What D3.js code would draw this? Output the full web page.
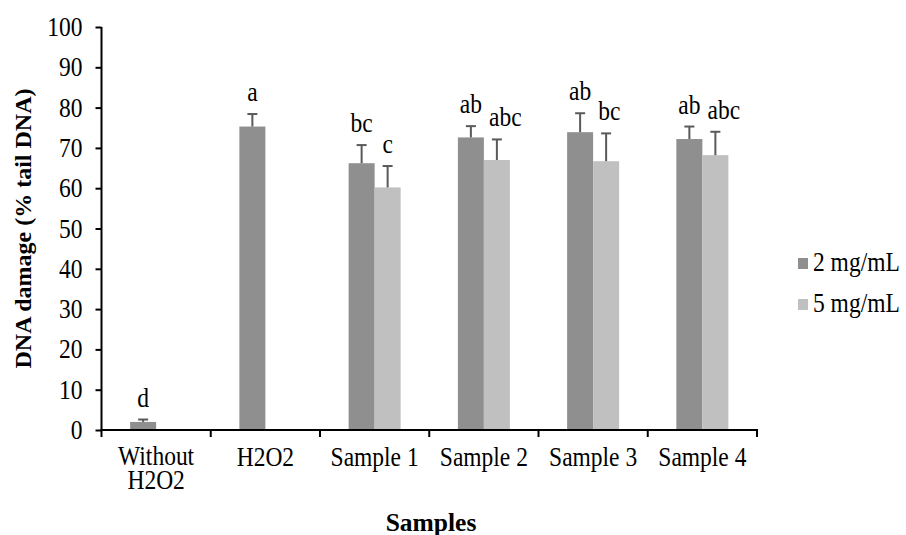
<!DOCTYPE html>
<html>
<head>
<meta charset="utf-8">
<script src="https://cdn.jsdelivr.net/npm/d3@7"></script>
<style>
  html, body { margin: 0; padding: 0; background: #fff; }
  svg { display: block; }
  text { font-family: "Liberation Serif", "Times New Roman", serif; fill: #000; }
</style>
</head>
<body>
<svg id="chart" width="906" height="535"></svg>
<script>
// Comet assay: DNA damage by treatment
const categories = ["Without H2O2", "H2O2", "Sample 1", "Sample 2", "Sample 3", "Sample 4"];
const seriesNames = ["2 mg/mL", "5 mg/mL"];
const values2 = [2.0, 75.3, 66.2, 72.6, 73.9, 72.2];
const errors2 = [0.6, 3.1, 4.5, 2.8, 4.7, 3.1];
const letters2 = ["d", "a", "bc", "ab", "ab", "ab"];
const values5 = [null, null, 60.2, 67.0, 66.7, 68.2];
const errors5 = [null, null, 5.3, 5.1, 6.9, 5.8];
const letters5 = [null, null, "c", "abc", "bc", "abc"];
const yTicks = [0, 10, 20, 30, 40, 50, 60, 70, 80, 90, 100];
const colors = ["#8f8f8f", "#c0c0c0"];

const FONT = 23.5;      // regular text size
const STRETCH = 1.13;   // the serif text is set slightly tall

const svg = d3.select("#chart");
const plot = { left: 101.5, right: 757, top: 27, bottom: 430 };

const x = d3.scaleBand().domain(categories).range([plot.left, plot.right]).padding(0);
const bw = x.bandwidth();
const barW = bw * 0.238;
const xs = d3.scaleBand().domain(seriesNames).range([bw / 2 - barW, bw / 2 + barW]).padding(0);
const y = d3.scaleLinear().domain([0, 100]).range([plot.bottom, plot.top]);

// place a text at (px, py) with the tall setting
function tallText(g, px, py, str) {
  return g.append("text")
    .attr("transform", `translate(${px},${py}) scale(1,${STRETCH})`)
    .text(str);
}

const rows = [];
categories.forEach((c, i) => {
  rows.push({ cat: c, s: seriesNames[0], v: values2[i], e: errors2[i], l: letters2[i], k: 0 });
  if (values5[i] != null) rows.push({ cat: c, s: seriesNames[1], v: values5[i], e: errors5[i], l: letters5[i], k: 1 });
});

// bars
svg.append("g").selectAll("rect").data(rows).join("rect")
  .attr("x", d => x(d.cat) + xs(d.s))
  .attr("width", xs.bandwidth())
  .attr("y", d => y(d.v))
  .attr("height", d => y(0) - y(d.v))
  .attr("fill", d => colors[d.k]);

// upper error bars
const eg = svg.append("g").attr("stroke", "#595959").attr("stroke-width", 2).attr("fill", "none");
rows.forEach(d => {
  const cx = x(d.cat) + xs(d.s) + xs.bandwidth() / 2;
  eg.append("line").attr("x1", cx).attr("x2", cx).attr("y1", y(d.v)).attr("y2", y(d.v + d.e));
  eg.append("line").attr("x1", cx - 5).attr("x2", cx + 5).attr("y1", y(d.v + d.e)).attr("y2", y(d.v + d.e));
});

// significance letters, nudged right when they would crowd the neighbour
const lg = svg.append("g").attr("font-size", FONT + "px").attr("text-anchor", "middle");
categories.forEach(c => {
  let prevRight = -Infinity;
  rows.filter(d => d.cat === c).forEach(d => {
    const cx = x(d.cat) + xs(d.s) + xs.bandwidth() / 2;
    const ty = y(d.v + d.e) - 13;
    const t = tallText(lg, cx, ty, d.l);
    const w = t.node().getComputedTextLength();
    let left = cx - w / 2;
    if (left < prevRight + 7) {
      left = prevRight + 7;
      t.attr("transform", `translate(${left + w / 2},${ty}) scale(1,${STRETCH})`);
    }
    prevRight = left + w;
  });
});

// y axis
const yAxis = svg.append("g").attr("transform", `translate(${plot.left},0)`)
  .call(d3.axisLeft(y).tickValues(yTicks).tickSize(6).tickPadding(13).tickFormat(d3.format("d")));
yAxis.select(".domain").attr("stroke", "#000").attr("stroke-width", 2).attr("d", `M0,${plot.top}V${plot.bottom}`);
yAxis.selectAll(".tick line").attr("stroke", "#000").attr("stroke-width", 2);
yAxis.selectAll(".tick text")
  .attr("font-size", FONT + "px")
  .attr("font-family", "Liberation Serif, Times New Roman, serif")
  .attr("fill", "#000")
  .attr("transform", `scale(1,${STRETCH})`);

// x axis: line with boundary ticks between categories
const xAxisG = svg.append("g");
xAxisG.append("line").attr("x1", plot.left - 1).attr("x2", plot.right + 1)
  .attr("y1", plot.bottom).attr("y2", plot.bottom).attr("stroke", "#000").attr("stroke-width", 2);
const bounds = categories.map(c => x(c)).concat([x(categories[categories.length - 1]) + bw]);
xAxisG.selectAll("line.tk").data(bounds).join("line").attr("class", "tk")
  .attr("x1", d => d).attr("x2", d => d).attr("y1", plot.bottom).attr("y2", plot.bottom + 7)
  .attr("stroke", "#000").attr("stroke-width", 2);

// category labels, wrapped onto separate lines when wider than the band
const cg = svg.append("g").attr("font-size", FONT + "px").attr("text-anchor", "middle");
categories.forEach(c => {
  const cx = x(c) + bw / 2;
  const t = tallText(cg, cx, 466, c);
  if (t.node().getComputedTextLength() > bw - 6) {
    const words = c.split(" ");
    t.remove();
    words.forEach((w, i) => tallText(cg, cx, 465 + i * 23.5, w));
  }
});

// axis titles
svg.append("text").attr("x", 431).attr("y", 530.5)
  .attr("text-anchor", "middle").attr("font-size", "25.5px").attr("font-weight", "bold").text("Samples");
svg.append("text").attr("transform", `translate(31,${(plot.top + plot.bottom) / 2}) rotate(-90)`)
  .attr("text-anchor", "middle").attr("font-size", "24px").attr("font-weight", "bold").text("DNA damage (% tail DNA)");

// legend
const leg = svg.append("g").attr("font-size", FONT + "px");
seriesNames.forEach((s, i) => {
  const yy = 270.5 + i * 41;
  leg.append("rect").attr("x", 798).attr("y", yy - 12.5).attr("width", 10).attr("height", 11).attr("fill", colors[i]);
  tallText(leg, 813, yy, s);
});
</script>
</body>
</html>
